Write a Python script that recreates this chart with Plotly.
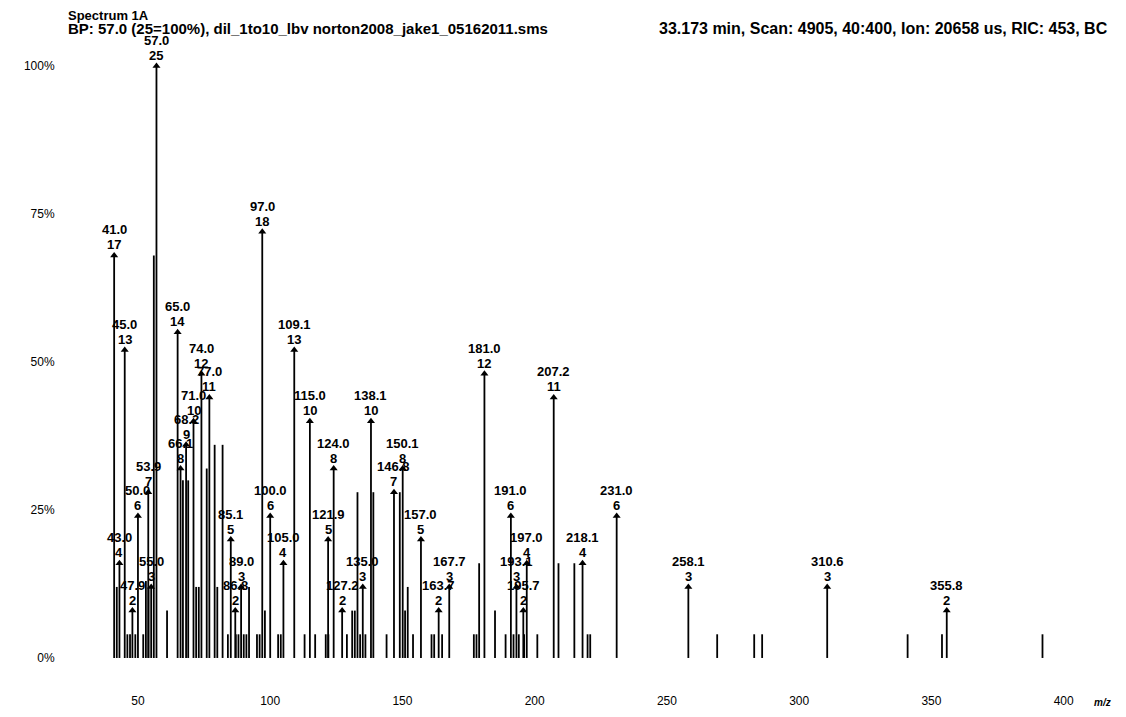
import plotly.graph_objects as go

# ---- data -------------------------------------------------------------
# labelled peaks (m/z, relative intensity %, count label)
lab_mz = [41.0, 43.0, 45.0, 47.9, 50.0, 53.9, 55.0, 57.0, 65.0, 66.1, 68.2, 71.0,
          74.0, 77.0, 85.1, 86.8, 89.0, 97.0, 100.0, 105.0, 109.1, 115.0, 121.9,
          124.0, 127.2, 135.0, 138.1, 146.8, 150.1, 157.0, 163.7, 167.7, 181.0,
          191.0, 193.1, 195.7, 197.0, 207.2, 218.1, 231.0, 258.1, 310.6, 355.8]
lab_int = [68, 16, 52, 8, 24, 28, 12, 100, 55, 32, 36, 40,
           48, 44, 20, 8, 12, 72, 24, 16, 52, 40, 20,
           32, 8, 12, 40, 28, 32, 20, 8, 12, 48,
           24, 12, 8, 16, 44, 16, 24, 12, 12, 8]
lab_cnt = ["17", "4", "13", "2", "6", "7", "3", "25", "14", "8", "9", "10",
           "12", "11", "5", "2", "3", "18", "6", "4", "13", "10", "5",
           "8", "2", "3", "10", "7", "8", "5", "2", "3", "12",
           "6", "3", "2", "4", "11", "4", "6", "3", "3", "2"]

# unlabelled peaks (m/z, relative intensity %)
bar_mz = [42, 46, 47, 49, 52, 53, 54, 56, 61, 67, 69, 72, 73, 76, 79, 80, 82,
          84, 87, 88, 90, 91, 92, 95, 96, 98, 103, 104, 113, 117, 121, 122,
          129, 131, 132, 133, 134, 136, 139, 144, 149, 151, 152, 154, 161, 162,
          165, 177, 178, 179, 185, 189, 192, 194, 196, 201, 209, 215, 220, 221,
          269, 283, 286, 341, 354, 392]
bar_int = [12, 4, 4, 4, 4, 13, 12, 68, 8, 30, 30, 12, 12, 32, 36, 12, 36,
           4, 4, 4, 4, 4, 12, 4, 4, 8, 4, 4, 4, 4, 4, 4,
           4, 8, 8, 28, 4, 4, 28, 4, 28, 8, 12, 4, 4, 4,
           4, 4, 4, 16, 8, 4, 4, 4, 4, 4, 16, 16, 4, 4,
           4, 4, 4, 4, 4, 4]

x_ticks = [50, 100, 150, 200, 250, 300, 350, 400]
y_ticks = [0, 25, 50, 75, 100]
y_tick_text = ["0%", "25%", "50%", "75%", "100%"]

title1 = "Spectrum 1A"
title2 = "BP: 57.0 (25=100%), dil_1to10_lbv norton2008_jake1_05162011.sms"
title3 = "33.173 min, Scan: 4905, 40:400, Ion: 20658 us, RIC: 453, BC"

# ---- figure -----------------------------------------------------------
all_mz = bar_mz + lab_mz
all_int = bar_int + lab_int
xs, ys = [], []
for m, v in zip(all_mz, all_int):
    xs += [m, m, None]
    ys += [0, v, None]

FONT = "Liberation Sans"
fig = go.Figure()
fig.add_trace(go.Scatter(x=xs, y=ys, mode="lines",
                         line=dict(color="black", width=1.8),
                         hoverinfo="skip", showlegend=False))
fig.add_trace(go.Scatter(x=lab_mz, y=lab_int, mode="markers",
                         marker=dict(symbol="triangle-up", size=7, color="black"),
                         showlegend=False))

for m, v, c in zip(lab_mz, lab_int, lab_cnt):
    fig.add_annotation(x=m, y=v, text="<b>%s</b>" % c, showarrow=False,
                       yanchor="bottom", xanchor="center", yshift=1,
                       font=dict(family=FONT, size=13, color="black"))
    fig.add_annotation(x=m, y=v, text="<b>%.1f</b>" % m, showarrow=False,
                       yanchor="bottom", xanchor="center", yshift=16,
                       font=dict(family=FONT, size=13, color="black"))

fig.add_annotation(xref="paper", yref="paper", x=-0.035, y=1.0,
                   xanchor="left", yanchor="middle", yshift=45,
                   text="<b>%s</b>" % title1, showarrow=False,
                   font=dict(family=FONT, size=13, color="black"))
fig.add_annotation(xref="paper", yref="paper", x=-0.035, y=1.0,
                   xanchor="left", yanchor="middle", yshift=32,
                   text="<b>%s</b>" % title2, showarrow=False,
                   font=dict(family=FONT, size=15, color="black"))
fig.add_annotation(xref="paper", yref="paper", x=1.041, y=1.0,
                   xanchor="right", yanchor="middle", yshift=32,
                   text="<b>%s</b>" % title3, showarrow=False,
                   font=dict(family=FONT, size=16, color="black"))
fig.add_annotation(xref="paper", yref="paper", x=1.0, y=0.0,
                   xanchor="left", yanchor="top", xshift=22, yshift=-33,
                   text="<i><b>m/z</b></i>", showarrow=False,
                   font=dict(family=FONT, size=10, color="black"))

fig.update_layout(
    width=1110, height=701,
    margin=dict(l=92, r=48, t=52, b=47, autoexpand=False),
    paper_bgcolor="white", plot_bgcolor="white",
    xaxis=dict(range=[35.65, 402.4], showgrid=False, zeroline=False,
               showline=False, tickvals=x_ticks, automargin=False,
               ticks="outside", ticklen=28, tickcolor="rgba(0,0,0,0)",
               tickfont=dict(family=FONT, size=12, color="black")),
    yaxis=dict(range=[-0.68, 101.0], showgrid=False, zeroline=False,
               showline=False, tickvals=y_ticks, ticktext=y_tick_text,
               automargin=False,
               ticks="outside", ticklen=42, tickcolor="rgba(0,0,0,0)",
               tickfont=dict(family=FONT, size=12, color="black")),
)

fig.write_html("out.html")
